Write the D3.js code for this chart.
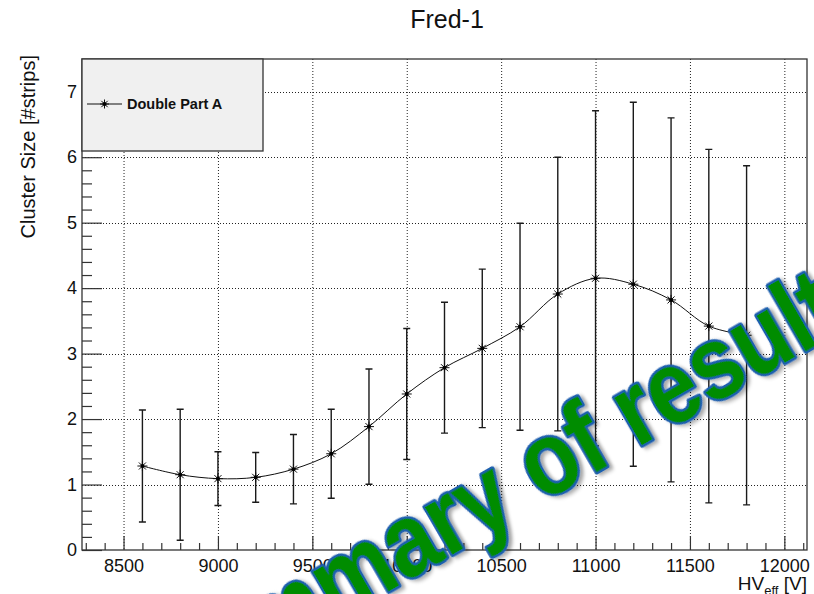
<!DOCTYPE html>
<html>
<head>
<meta charset="utf-8">
<script src="https://cdn.jsdelivr.net/npm/d3@7/dist/d3.min.js"></script>
<style>
  html, body { margin: 0; padding: 0; background: #fff; }
  svg { display: block; }
  text { font-family: "Liberation Sans", Arial, Helvetica, sans-serif; }
</style>
</head>
<body>
<svg id="chart" width="814" height="594"></svg>
<script>
// HV scan of the cluster size, with symmetric errors
const hvEff = [8600, 8800, 9000, 9200, 9400, 9600, 9800, 10000, 10200, 10400,
               10600, 10800, 11000, 11200, 11400, 11600, 11800];
const clusterSize = [1.283, 1.15, 1.09, 1.11, 1.235, 1.47, 1.885, 2.383, 2.785, 3.08,
                     3.41, 3.91, 4.15, 4.06, 3.82, 3.42, 3.28];
const clusterErr = [0.855, 1.0, 0.41, 0.38, 0.53, 0.68, 0.88, 1.0, 1.0, 1.21,
                    1.58, 2.09, 2.56, 2.78, 2.78, 2.70, 2.59];

const xMajorTicks = [8500, 9000, 9500, 10000, 10500, 11000, 11500, 12000];
const yMajorTicks = [0, 1, 2, 3, 4, 5, 6, 7];
const xDomain = [8280, 12120];
const yDomain = [0, 7.5];

const titleText = "Fred-1";
const yTitle = "Cluster Size [#strips]";
const legendLabel = "Double Part A";
const stampText = "Summary of results";

const svg = d3.select("#chart");
const frame = { left: 82, right: 807, top: 59, bottom: 550 };

const x = d3.scaleLinear().domain(xDomain).range([frame.left, frame.right]);
const y = d3.scaleLinear().domain(yDomain).range([frame.bottom, frame.top]);

// minor ticks every 100 V and 0.2 strips
const xMinorTicks = d3.range(8300, 12101, 100).filter(v => v % 500 !== 0);
const yMinorTicks = d3.range(0, 37).map(i => +(i * 0.2).toFixed(1)).filter(v => Math.abs(v - Math.round(v)) > 1e-6);

svg.append("rect")
  .attr("x", frame.left).attr("y", frame.top)
  .attr("width", frame.right - frame.left).attr("height", frame.bottom - frame.top)
  .attr("fill", "#fff");

// dotted grid at major ticks
const grid = svg.append("g").attr("stroke", "#222").attr("stroke-width", 1)
  .attr("stroke-dasharray", "1,2");
grid.selectAll("line.gx").data(xMajorTicks).join("line")
  .attr("x1", d => x(d) + 0.5).attr("x2", d => x(d) + 0.5)
  .attr("y1", frame.top).attr("y2", frame.bottom);
grid.selectAll("line.gy").data(yMajorTicks.filter(d => d > 0)).join("line")
  .attr("y1", d => Math.round(y(d)) + 0.5).attr("y2", d => Math.round(y(d)) + 0.5)
  .attr("x1", frame.left).attr("x2", frame.right);

// axes: ticks point into the frame
const axisColor = "#333";
const xAxisMinor = d3.axisBottom(x).tickValues(xMinorTicks).tickSize(-7).tickFormat("");
const xAxisMajor = d3.axisBottom(x).tickValues(xMajorTicks).tickSize(-14).tickPadding(9)
  .tickFormat(d3.format("d"));
const yAxisMinor = d3.axisLeft(y).tickValues(yMinorTicks).tickSize(-10).tickFormat("");
const yAxisMajor = d3.axisLeft(y).tickValues(yMajorTicks).tickSize(-20).tickPadding(5)
  .tickFormat(d3.format("d"));

function styleAxis(g) {
  g.select(".domain").remove();
  g.selectAll(".tick line").attr("stroke", axisColor).attr("stroke-width", 1.2);
  g.selectAll(".tick text").attr("fill", "#111").attr("font-size", 18);
}
svg.append("g").attr("transform", `translate(0,${frame.bottom})`).call(xAxisMinor).call(styleAxis);
svg.append("g").attr("transform", `translate(0,${frame.bottom})`).call(xAxisMajor).call(styleAxis);
svg.append("g").attr("transform", `translate(${frame.left},0)`).call(yAxisMinor).call(styleAxis);
svg.append("g").attr("transform", `translate(${frame.left},0)`).call(yAxisMajor).call(styleAxis);

// error bars with end caps
const pts = hvEff.map((v, i) => ({ x: v, y: clusterSize[i], e: clusterErr[i] }));
const eb = svg.append("g").attr("stroke", "#1a1a1a").attr("stroke-width", 1.4).attr("fill", "none");
eb.selectAll("path").data(pts).join("path")
  .attr("d", d => {
    const cx = x(d.x), t = y(d.y + d.e), b = y(d.y - d.e), w = 3.5;
    return `M${cx},${t}V${b}M${cx - w},${t}H${cx + w}M${cx - w},${b}H${cx + w}`;
  });

// smoothed line through the points
const line = d3.line().x(d => x(d.x)).y(d => y(d.y)).curve(d3.curveCatmullRom.alpha(0.5));
svg.append("path").datum(pts).attr("d", line)
  .attr("fill", "none").attr("stroke", "#111").attr("stroke-width", 1);

// asterisk markers
function star(g, cx, cy, r) {
  const d = r * Math.SQRT1_2;
  g.append("path")
    .attr("d", `M${cx - r},${cy}H${cx + r}M${cx},${cy - r}V${cy + r}` +
               `M${cx - d},${cy - d}L${cx + d},${cy + d}M${cx - d},${cy + d}L${cx + d},${cy - d}`)
    .attr("stroke", "#111").attr("stroke-width", 1).attr("fill", "none");
  g.append("circle").attr("cx", cx).attr("cy", cy).attr("r", 2).attr("fill", "#000");
}
const mk = svg.append("g");
pts.forEach(d => star(mk, x(d.x), y(d.y), 5));

// frame border
svg.append("rect")
  .attr("x", frame.left).attr("y", frame.top)
  .attr("width", frame.right - frame.left).attr("height", frame.bottom - frame.top)
  .attr("fill", "none").attr("stroke", axisColor).attr("stroke-width", 1.3);

// legend box
const lg = svg.append("g");
lg.append("rect").attr("x", frame.left).attr("y", frame.top)
  .attr("width", 181).attr("height", 92)
  .attr("fill", "#f0f0f0").attr("stroke", axisColor).attr("stroke-width", 1.3);
lg.append("line").attr("x1", 87).attr("x2", 122).attr("y1", 104).attr("y2", 104)
  .attr("stroke", "#111").attr("stroke-width", 1.2);
star(lg, 104.5, 104, 4.5);
lg.append("text").attr("x", 127).attr("y", 109)
  .attr("font-size", 14.5).attr("font-weight", "bold").attr("fill", "#111")
  .text(legendLabel);

// titles
svg.append("text").attr("x", 447).attr("y", 28).attr("text-anchor", "middle")
  .attr("font-size", 25).attr("fill", "#111").text(titleText);

svg.append("text")
  .attr("transform", `translate(35,55) rotate(-90)`)
  .attr("text-anchor", "end").attr("font-size", 20).attr("fill", "#111")
  .text(yTitle);

const xt = svg.append("text").attr("x", frame.right).attr("y", 590)
  .attr("text-anchor", "end").attr("font-size", 19).attr("fill", "#111");
xt.append("tspan").text("HV");
xt.append("tspan").attr("font-size", 13).attr("dy", 5).text("eff");
xt.append("tspan").attr("dy", -5).text(" [V]");

// diagonal stamp across the plot
const defs = svg.append("defs");
const f = defs.append("filter").attr("id", "stampShadow")
  .attr("x", "-20%").attr("y", "-20%").attr("width", "140%").attr("height", "140%");
f.append("feDropShadow").attr("dx", 3).attr("dy", 3).attr("stdDeviation", 2)
  .attr("flood-color", "#000").attr("flood-opacity", 0.35);

const stampSize = 104;
const stampG = svg.append("g");
const stamp = stampG.append("text")
  .attr("x", 0).attr("y", 0)
  .attr("font-family", "Lato, 'Open Sans', sans-serif")
  .attr("font-weight", 700).attr("font-size", stampSize)
  .attr("fill", "#008c00").attr("stroke", "#1f5fae").attr("stroke-width", 5)
  .attr("stroke-linejoin", "round").style("paint-order", "stroke")
  .attr("filter", "url(#stampShadow)")
  .text(stampText);
// put the centre of the "o" in "of" at its spot; squeeze slightly along the baseline
const node = stamp.node();
const oCx = node.getSubStringLength(0, 8) + node.getSubStringLength(8, 1) / 2;
const oCy = -0.26 * stampSize;
const squeeze = 0.86;
stampG.attr("transform",
  `translate(552,466) rotate(-30) scale(${squeeze},1) translate(${-oCx},${-oCy})`);
</script>
</body>
</html>
